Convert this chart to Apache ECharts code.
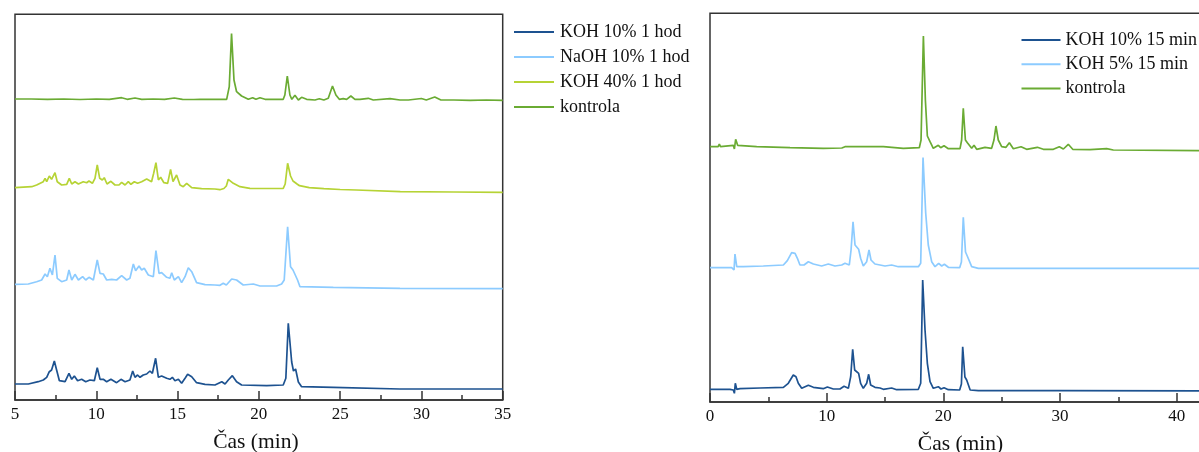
<!DOCTYPE html>
<html>
<head>
<meta charset="utf-8">
<script src="https://cdn.jsdelivr.net/npm/echarts@6/dist/echarts.min.js"></script>
<style>
html,body{margin:0;padding:0;background:#fff;}
#chart{width:1199px;height:452px;}
</style>
</head>
<body>
<div id="chart"></div>
<script>
// ---------- Left panel (1 hod) : [time (min), stacked intensity (a.u.)] ----------
var leftTicks = [5, 10, 15, 20, 25, 30, 35];
var koh10_1h = [[5,16],[5.82,16],[6.43,18.3],[6.74,20],[6.95,22.7],[7.11,28.3],[7.25,30],[7.42,39],[7.56,30],[7.73,19.3],[8.08,18.3],[8.32,26.7],[8.49,20.7],[8.65,24],[8.85,19.3],[9.1,20.7],[9.35,18.3],[9.61,20],[9.88,19.3],[10.06,32.3],[10.23,20.7],[10.43,20.7],[10.64,18.3],[10.9,20.7],[11.25,17.3],[11.52,20.7],[11.77,18.3],[12.07,20],[12.24,29],[12.38,22.7],[12.54,25],[12.69,22.7],[12.89,25],[13.1,26],[13.3,29],[13.45,26.7],[13.65,41.7],[13.82,22.7],[14.02,24],[14.33,21.7],[14.53,20.7],[14.68,22.7],[14.84,19.3],[15.05,20.7],[15.25,16.7],[15.46,21.7],[15.62,25.7],[15.87,23.3],[16.17,17.3],[16.69,15.7],[17.3,15],[17.41,16],[17.72,18.3],[17.92,16],[18.12,20],[18.37,24.3],[18.63,18.3],[18.94,15],[20.48,14.3],[21.5,15],[21.66,21.7],[21.81,76.7],[22.02,38],[22.13,29],[22.26,31],[22.43,18],[22.63,13.3],[24.58,12.7],[28.68,11],[35,11]];
var naoh10_1h = [[5,115.7],[5.82,116],[6.33,118.3],[6.64,120],[6.85,126],[6.99,123.3],[7.15,131.7],[7.3,125],[7.46,145],[7.6,121.7],[7.87,118.3],[8.18,120],[8.32,130],[8.49,120],[8.69,125.7],[8.9,120],[9.16,123.3],[9.35,120],[9.55,122.7],[9.82,120],[10.06,140],[10.23,126.7],[10.43,126],[10.64,120],[10.95,120.7],[11.25,120],[11.56,124.3],[11.87,120],[12.07,121.7],[12.28,136],[12.42,129.3],[12.63,134],[12.79,130],[12.95,131.7],[13.2,125],[13.51,123.3],[13.67,149.3],[13.86,126.7],[14.02,127.3],[14.33,122.7],[14.53,121.7],[14.64,127.3],[14.8,120],[15.05,123.3],[15.25,117.3],[15.46,123.3],[15.66,132.3],[15.87,128.3],[16.17,117.3],[16.69,115.3],[17.3,115],[17.61,114.7],[17.81,116.7],[18.0,115],[18.33,121],[18.63,120],[19.04,115],[19.66,116],[20.07,114],[21.09,114],[21.4,116],[21.56,120],[21.77,173.3],[21.95,133.3],[22.1,130],[22.22,131.7],[22.38,120],[22.53,113.3],[24.58,112.7],[28.68,111.7],[35,111.3]];
var koh40_1h = [[5,212.3],[6.03,213.3],[6.33,215],[6.74,218.3],[6.85,221.7],[6.95,218.3],[7.11,224],[7.25,220.7],[7.46,227.3],[7.6,218.3],[7.87,215],[8.18,215.7],[8.34,221.7],[8.49,216],[8.69,218.3],[8.9,216],[9.2,218.3],[9.41,217.3],[9.55,219],[9.76,216.7],[9.92,221.7],[10.06,235],[10.21,221.7],[10.37,220],[10.49,222.3],[10.66,216],[10.9,218.7],[11.15,215],[11.4,215],[11.56,217.7],[11.77,215],[11.97,218.3],[12.13,215.7],[12.34,218.3],[12.54,216.7],[12.79,218.3],[13.1,221],[13.4,218.3],[13.53,226.7],[13.67,237.3],[13.82,220],[13.96,222.7],[14.16,217.3],[14.39,216.7],[14.57,230.7],[14.72,218.3],[14.94,225],[15.15,215],[15.35,213.3],[15.56,216.7],[15.87,212.3],[16.48,211.3],[17.3,211],[17.6,210.3],[17.85,211.5],[18.0,214],[18.12,220.7],[18.43,216.7],[18.84,213.3],[19.45,211.7],[20.5,211.5],[21.5,211.7],[21.62,216],[21.77,236.7],[21.95,224],[22.1,219],[22.22,218.3],[22.35,216],[22.5,214.3],[23.1,212.3],[24,211.3],[25,210.5],[26,210],[28.7,208.3],[32,208],[35,207.7]];
var kontrolaLeft = [[5,301],[6,301],[7,300.7],[8,301],[9,300.5],[10,301],[10.8,300.7],[11.56,302.3],[11.9,300.7],[12.38,302],[12.8,300.7],[13.5,301],[14.2,300.7],[14.8,302],[15.3,300.7],[16,300.5],[16.38,300.7],[18.02,300.7],[18.18,313.3],[18.32,366.5],[18.47,320],[18.63,308.3],[18.94,304],[19.35,300.7],[19.62,302.3],[19.82,300.7],[20.07,302.3],[20.38,300.7],[21.5,300.7],[21.6,305],[21.75,324],[21.91,305],[22.03,300.7],[22.22,304.7],[22.43,300],[22.63,302.7],[22.94,300.7],[23.45,300],[23.72,301.3],[24.0,300],[24.27,301.7],[24.53,314],[24.74,305],[24.95,300.7],[25.19,301.3],[25.4,300.7],[25.66,304],[25.91,300.7],[26.22,300.7],[26.73,301.7],[27.04,300],[28.07,301.3],[28.68,300],[29.2,300],[30.0,301.5],[30.3,300],[30.82,303],[31.2,300],[32,300],[33,299.7],[34,300],[35,299.7]];

// ---------- Right panel (15 min) ----------
var rightTicks = [0, 10, 20, 30, 40];
var koh10_15m = [[0,12.7],[1.71,12.7],[2.0,12],[2.09,8.7],[2.17,18.7],[2.29,12.7],[2.57,13.3],[4.29,14],[6.29,14.7],[6.71,18.7],[7.14,27],[7.37,25.3],[7.57,18.7],[7.86,13.7],[8.43,16.7],[8.86,14.7],[9.71,13.3],[10.06,15],[10.57,13],[11.14,13],[11.49,15.7],[11.86,13.7],[12.06,25.3],[12.23,52.7],[12.4,32],[12.57,31.3],[12.74,28.7],[12.91,18.7],[13.14,13.7],[13.43,18.7],[13.6,27.7],[13.77,17],[14.14,14.7],[14.57,14],[14.86,12.7],[15.57,14],[16.0,12.3],[17.86,12.7],[18.06,18.7],[18.23,122],[18.43,72],[18.63,38.7],[18.86,20.3],[19.14,13.7],[19.57,15.3],[19.8,13],[20.06,14.3],[20.43,12.3],[21.4,12],[21.55,18],[21.66,55.3],[21.85,25],[22.0,22],[22.09,22],[22.3,12],[23,11.3],[30,11.3],[45,11]];
var koh5_15m = [[0,134.3],[1.86,134.3],[2.06,132],[2.14,148],[2.29,135.3],[2.86,135.3],[4.57,136],[6.29,137],[6.63,141.3],[7.0,149.3],[7.29,148.7],[7.49,143.7],[7.71,137],[8.06,137],[8.43,140.3],[8.86,138],[9.57,136],[10.14,138],[10.71,136],[11.29,137],[11.57,138.7],[11.94,137],[12.09,152],[12.26,180.3],[12.43,157],[12.57,155.3],[12.74,152.7],[12.91,143.7],[13.14,136],[13.43,140.3],[13.63,152],[13.8,142],[14.14,138],[14.57,137],[15.0,136],[15.57,137],[16.14,135.3],[17.86,135.3],[18.06,138.7],[18.26,244.5],[18.49,188.7],[18.71,157],[19.0,140.3],[19.29,135.3],[19.6,138.7],[19.86,136],[20.09,137.7],[20.43,134.7],[21.4,134.3],[21.55,140],[21.71,184.7],[21.9,150],[22.05,146],[22.17,145.3],[22.43,135.3],[23,133.7],[45,133.5]];
var kontrolaRight = [[0,255.3],[0.7,255.3],[0.8,258],[0.9,255.3],[2.0,256.7],[2.09,253],[2.2,262.7],[2.37,256.7],[4.0,255.3],[6.86,254.3],[9.71,253.7],[11.3,254],[11.57,255.3],[12.29,255.3],[14.86,255.3],[16.57,253.7],[17.94,254.3],[18.09,262],[18.29,366],[18.46,302],[18.63,266],[18.86,260.3],[19.14,253.7],[19.57,256.7],[19.77,254.3],[20.06,256.3],[20.43,253.3],[21.43,253.3],[21.57,262],[21.71,293.7],[21.89,262],[22.06,259.3],[22.23,256.7],[22.43,253.7],[22.63,256.7],[22.86,252.7],[23.57,254.7],[24.14,253.7],[24.34,262],[24.51,276],[24.71,262],[25.0,255.3],[25.37,254.7],[25.66,259.3],[26.0,253.3],[26.66,255.3],[27.14,252.7],[28.06,254.7],[28.57,252.7],[29.43,252.7],[29.94,255.3],[30.29,253],[30.71,257.7],[31.09,252.7],[32.57,252.3],[34.0,253.3],[34.57,252],[41.9,251.3],[45,251]];

var leftLegend = ['KOH 10% 1 hod', 'NaOH 10% 1 hod', 'KOH 40% 1 hod', 'kontrola'];
var rightLegend = ['KOH 10% 15 min', 'KOH 5% 15 min', 'kontrola'];
var xTitle = 'Čas (min)';

var C_DARK = '#1d5290', C_LIGHT = '#8ccbff', C_YEL = '#b6d335', C_GREEN = '#6aab33';
var FONT = "'Liberation Serif', 'Times New Roman', serif";

var chart = echarts.init(document.getElementById('chart'), null, {renderer: 'canvas'});

function xAxisCfg(gridIndex, min, max, interval, padRight) {
  return {
    type: 'value', gridIndex: gridIndex, min: min, max: max, interval: interval,
    name: xTitle, nameLocation: 'middle', nameGap: 31,
    nameTextStyle: {fontFamily: FONT, fontSize: 21.5, color: '#111', padding: [0, padRight, 0, 0]},
    axisLine: {show: true, onZero: false, lineStyle: {color: '#333', width: 1.5}},
    axisTick: {show: true, inside: true, length: 9, lineStyle: {color: '#333', width: 1.5}},
    minorTick: {show: true, splitNumber: 2, length: 5, lineStyle: {color: '#333', width: 1.5}},
    splitLine: {show: false}, minorSplitLine: {show: false},
    axisLabel: {show: true, margin: 6, fontFamily: FONT, fontSize: 17, color: '#111', showMinLabel: true, showMaxLabel: true}
  };
}
function yAxisCfg(gridIndex, max) {
  return {type: 'value', gridIndex: gridIndex, min: 0, max: max, show: false, splitLine: {show: false}};
}
function line(name, data, color, xi) {
  return {
    name: name, type: 'line', data: data, xAxisIndex: xi, yAxisIndex: xi,
    showSymbol: false, symbol: 'none', smooth: false,
    color: color, itemStyle: {color: color},
    lineStyle: {color: color, width: 1.7}, animation: false, z: 2
  };
}

var option = {
  animation: false,
  backgroundColor: '#ffffff',
  grid: [
    {left: 15, top: 14.3, width: 487.7, height: 385.7, show: true, borderColor: '#333', borderWidth: 1.5, backgroundColor: 'transparent', containLabel: false, outerBoundsMode: 'none'},
    {left: 710, top: 13.3, width: 525, height: 388.7, show: true, borderColor: '#333', borderWidth: 1.5, backgroundColor: 'transparent', containLabel: false, outerBoundsMode: 'none'}
  ],
  xAxis: [xAxisCfg(0, 5, 35, 5, 6), xAxisCfg(1, 0, 45, 10, 24)],
  yAxis: [yAxisCfg(0, 385.7), yAxisCfg(1, 388.7)],
  legend: [
    {data: leftLegend, left: 514, top: 23, orient: 'vertical', icon: 'rect', itemWidth: 40, itemHeight: 2, itemGap: 7,
     textStyle: {fontFamily: FONT, fontSize: 18, lineHeight: 18, color: '#111', padding: [0, 0, 0, 1]}, padding: 0, selectedMode: false},
    {data: rightLegend, left: 1021.5, top: 31, orient: 'vertical', icon: 'rect', itemWidth: 39, itemHeight: 2, itemGap: 6.2,
     textStyle: {fontFamily: FONT, fontSize: 18, lineHeight: 18, color: '#111', padding: [0, 0, 0, 0]}, padding: 0, selectedMode: false}
  ],
  series: [
    line('KOH 10% 1 hod', koh10_1h, C_DARK, 0),
    line('NaOH 10% 1 hod', naoh10_1h, C_LIGHT, 0),
    line('KOH 40% 1 hod', koh40_1h, C_YEL, 0),
    line('kontrola', kontrolaLeft, C_GREEN, 0),
    line('KOH 10% 15 min', koh10_15m, C_DARK, 1),
    line('KOH 5% 15 min', koh5_15m, C_LIGHT, 1),
    line('kontrola', kontrolaRight, C_GREEN, 1)
  ]
};
chart.setOption(option);
</script>
</body>
</html>
